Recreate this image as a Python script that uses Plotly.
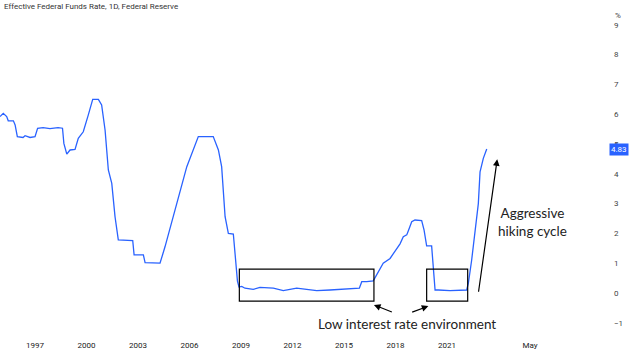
import plotly.graph_objects as go

# Effective Federal Funds Rate (decimal year, percent)
year = [1994.96, 1995.15, 1995.35, 1995.44, 1995.74, 1995.84, 1995.97, 1996.30, 1996.42,
        1996.71, 1997.00, 1997.15, 1997.47, 1997.87, 1998.34, 1998.60, 1998.68, 1998.85,
        1999.04, 1999.33, 1999.52, 1999.81, 2000.10, 2000.36, 2000.69, 2000.88, 2001.08,
        2001.27, 2001.47, 2001.66, 2001.85, 2002.69, 2002.77, 2003.31, 2003.41, 2004.28,
        2004.57, 2005.05, 2005.45, 2005.84, 2006.51, 2007.38, 2007.68, 2007.87, 2008.07,
        2008.26, 2008.55, 2008.68, 2008.79, 2008.88, 2009.04, 2009.23, 2009.71, 2010.10,
        2010.88, 2011.46, 2012.24, 2012.82, 2013.41, 2014.18, 2014.96, 2015.74, 2015.89,
        2016.03, 2016.32, 2016.70, 2016.99, 2017.28, 2017.68, 2017.87, 2018.26, 2018.45,
        2018.65, 2018.75, 2018.94, 2019.13, 2019.52, 2019.66, 2019.81, 2020.10, 2020.20,
        2020.30, 2020.49, 2021.17, 2022.14, 2022.24, 2022.43, 2022.63, 2022.82, 2022.92,
        2023.11, 2023.31]
rate = [5.92, 6.03, 5.92, 5.78, 5.78, 5.64, 5.25, 5.22, 5.28,
        5.22, 5.25, 5.53, 5.55, 5.52, 5.55, 5.53, 5.02, 4.66,
        4.80, 4.82, 5.19, 5.41, 5.97, 6.50, 6.50, 6.31, 5.47,
        4.13, 3.68, 2.56, 1.78, 1.76, 1.28, 1.28, 1.02, 1.00,
        1.55, 2.56, 3.46, 4.24, 5.25, 5.25, 4.80, 4.24, 2.56,
        2.00, 1.98, 1.00, 0.40, 0.20, 0.22, 0.16, 0.12, 0.19,
        0.16, 0.08, 0.16, 0.12, 0.08, 0.10, 0.12, 0.14, 0.16,
        0.38, 0.38, 0.41, 0.71, 1.00, 1.16, 1.33, 1.65, 1.89,
        1.95, 2.10, 2.39, 2.45, 2.43, 2.11, 1.58, 1.58, 0.88,
        0.10, 0.10, 0.08, 0.10, 0.33, 1.10, 2.10, 3.00, 4.07,
        4.52, 4.83]

x_tick_vals = [1997, 2000, 2003, 2006, 2009, 2012, 2015, 2018, 2021, 2025.83]
x_tick_text = ["1997", "2000", "2003", "2006", "2009", "2012", "2015", "2018", "2021", "May"]
y_tick_vals = [-1, 0, 1, 2, 3, 4, 5, 6, 7, 8, 9]
y_tick_text = ["\u22121", "0", "1", "2", "3", "4", "5", "6", "7", "8", "9"]
last_value = rate[-1]

BLUE = "#2962ff"
ANN_FONT = dict(family="Lato", size=13.5, color="#222222")
TITLE = "Effective Federal Funds Rate, 1D, Federal Reserve"

fig = go.Figure()
fig.add_trace(go.Scatter(x=year, y=rate, mode="lines",
                         line=dict(color=BLUE, width=1.3), hoverinfo="skip"))

fig.update_layout(
    width=639, height=360,
    margin=dict(l=0, r=41, t=18, b=25),
    paper_bgcolor="white", plot_bgcolor="white",
    showlegend=False,
    xaxis=dict(range=[1994.96, 2029.79], showgrid=False, zeroline=False,
               showline=False, ticks="", tickvals=x_tick_vals, ticktext=x_tick_text,
               tickfont=dict(family="Roboto", size=8, color="#222222"),
               ticklabelstandoff=4),
    yaxis=dict(range=[-1.41, 9.23], side="right", showgrid=False, zeroline=False,
               showline=False, ticks="", tickvals=y_tick_vals, ticktext=y_tick_text,
               tickfont=dict(family="Roboto", size=8, color="#444444"),
               ticklabelstandoff=15),
)

# boxes
for x0, x1 in [(2008.90, 2016.74), (2019.81, 2022.20)]:
    fig.add_shape(type="rect", xref="x", yref="y", x0=x0, x1=x1, y0=-0.27, y1=0.80,
                  line=dict(color="black", width=1.2), fillcolor="rgba(0,0,0,0)")

# arrows
for (hx, hy, tx, ty) in [(2016.74, -0.40, 2017.87, -0.66),
                         (2019.91, -0.44, 2018.88, -0.66),
                         (2023.92, 4.49, 2022.82, -0.01)]:
    fig.add_annotation(x=hx, y=hy, ax=tx, ay=ty, xref="x", yref="y", axref="x", ayref="y",
                       text="", showarrow=True, arrowhead=2, arrowsize=1.1,
                       arrowwidth=1.2, arrowcolor="black")

fig.add_annotation(x=2018.67, y=-1.04, xref="x", yref="y", text="Low interest rate environment",
                   showarrow=False, font=ANN_FONT, xanchor="center", yanchor="middle")
fig.add_annotation(x=2025.97, y=2.39, xref="x", yref="y", text="Aggressive<br>hiking cycle",
                   showarrow=False, font=ANN_FONT, xanchor="center", yanchor="middle",
                   align="center")

# title
fig.add_annotation(x=0.004, y=1 + (18 - 6) / 317.0, xref="paper", yref="paper", text=TITLE,
                   showarrow=False, font=dict(family="Roboto", size=8, color="#333333"),
                   xanchor="left", yanchor="middle")

# percent unit label
fig.add_annotation(x=1 + 20 / 598.0, y=1 + 3 / 317.0, xref="paper", yref="paper", text="%",
                   showarrow=False, font=dict(family="Roboto", size=8, color="#444444"),
                   xanchor="center", yanchor="middle")

# last value label
fig.add_annotation(x=1 + 11 / 598.0, y=last_value, xref="paper", yref="y",
                   text="%.2f" % last_value, showarrow=False,
                   font=dict(family="Roboto", size=8, color="white"),
                   bgcolor=BLUE, borderpad=1, xanchor="left", yanchor="middle")

fig.write_html("out.html", config={"displayModeBar": False},
               post_script="document.body.style.margin='0';")
